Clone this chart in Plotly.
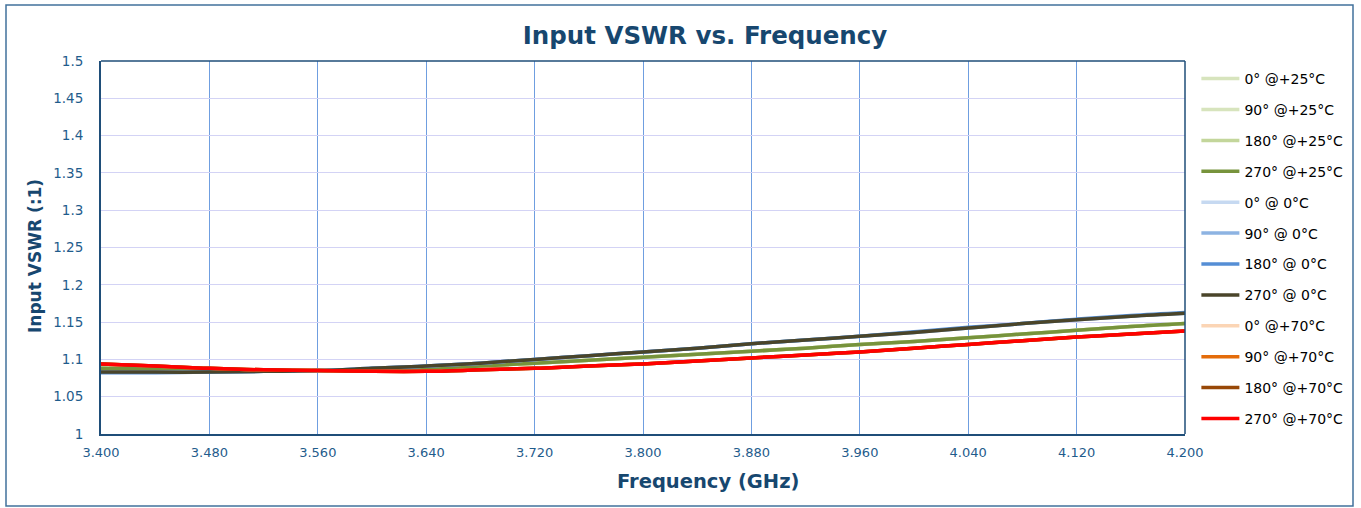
import plotly.graph_objects as go

freq = [3.40, 3.44, 3.48, 3.52, 3.56, 3.60, 3.64, 3.68, 3.72, 3.76, 3.80,
        3.84, 3.88, 3.92, 3.96, 4.00, 4.04, 4.08, 4.12, 4.16, 4.20]

# +25°C
vswr_0_25   = [1.088, 1.087, 1.086, 1.085, 1.085, 1.086, 1.088, 1.091, 1.095, 1.099, 1.103,
               1.107, 1.111, 1.115, 1.120, 1.124, 1.129, 1.134, 1.139, 1.144, 1.148]
vswr_90_25  = [1.088, 1.087, 1.086, 1.085, 1.085, 1.086, 1.088, 1.091, 1.095, 1.099, 1.103,
               1.107, 1.111, 1.115, 1.120, 1.124, 1.129, 1.134, 1.139, 1.144, 1.148]
vswr_180_25 = [1.088, 1.087, 1.086, 1.085, 1.085, 1.086, 1.088, 1.091, 1.095, 1.099, 1.103,
               1.107, 1.111, 1.115, 1.120, 1.124, 1.129, 1.134, 1.139, 1.144, 1.148]
vswr_270_25 = [1.088, 1.087, 1.086, 1.085, 1.085, 1.086, 1.088, 1.091, 1.095, 1.099, 1.103,
               1.107, 1.111, 1.115, 1.120, 1.124, 1.129, 1.134, 1.139, 1.144, 1.148]
# 0°C
vswr_0_0    = [1.083, 1.083, 1.083, 1.084, 1.085, 1.088, 1.091, 1.095, 1.100, 1.105, 1.110,
               1.115, 1.121, 1.126, 1.131, 1.136, 1.142, 1.148, 1.153, 1.158, 1.162]
vswr_90_0   = [1.083, 1.083, 1.083, 1.084, 1.085, 1.088, 1.091, 1.095, 1.100, 1.105, 1.110,
               1.115, 1.121, 1.126, 1.131, 1.136, 1.142, 1.148, 1.153, 1.158, 1.162]
vswr_180_0  = [1.082, 1.082, 1.083, 1.084, 1.085, 1.088, 1.091, 1.095, 1.100, 1.105, 1.110,
               1.115, 1.121, 1.126, 1.131, 1.137, 1.143, 1.148, 1.154, 1.159, 1.163]
vswr_270_0  = [1.083, 1.083, 1.083, 1.084, 1.085, 1.088, 1.091, 1.095, 1.100, 1.105, 1.110,
               1.115, 1.121, 1.126, 1.131, 1.136, 1.142, 1.148, 1.153, 1.158, 1.162]
# +70°C
vswr_0_70   = [1.094, 1.091, 1.088, 1.086, 1.085, 1.084, 1.084, 1.086, 1.088, 1.091, 1.094,
               1.098, 1.102, 1.106, 1.110, 1.115, 1.120, 1.125, 1.130, 1.134, 1.138]
vswr_90_70  = [1.094, 1.091, 1.088, 1.086, 1.085, 1.084, 1.084, 1.086, 1.088, 1.091, 1.094,
               1.098, 1.102, 1.106, 1.110, 1.115, 1.120, 1.125, 1.130, 1.134, 1.138]
vswr_180_70 = [1.094, 1.091, 1.088, 1.086, 1.085, 1.084, 1.084, 1.086, 1.088, 1.091, 1.094,
               1.098, 1.102, 1.106, 1.110, 1.115, 1.120, 1.125, 1.130, 1.134, 1.138]
vswr_270_70 = [1.094, 1.091, 1.088, 1.086, 1.085, 1.084, 1.084, 1.086, 1.088, 1.091, 1.094,
               1.098, 1.102, 1.106, 1.110, 1.115, 1.120, 1.125, 1.130, 1.134, 1.138]

series_names = ["0° @+25°C", "90° @+25°C", "180° @+25°C", "270° @+25°C",
                "0° @ 0°C", "90° @ 0°C", "180° @ 0°C", "270° @ 0°C",
                "0° @+70°C", "90° @+70°C", "180° @+70°C", "270° @+70°C"]
series_values = [vswr_0_25, vswr_90_25, vswr_180_25, vswr_270_25,
                 vswr_0_0, vswr_90_0, vswr_180_0, vswr_270_0,
                 vswr_0_70, vswr_90_70, vswr_180_70, vswr_270_70]
series_colors = ["#d7e4bd", "#d7e4bd", "#c3d69b", "#77933c",
                 "#c6d9f1", "#8db3e2", "#558ed5", "#4a452a",
                 "#fbd5b5", "#e46c0a", "#984807", "#ff0000"]

x_ticks = [3.40, 3.48, 3.56, 3.64, 3.72, 3.80, 3.88, 3.96, 4.04, 4.12, 4.20]
x_ticktext = ["3.400", "3.480", "3.560", "3.640", "3.720", "3.800",
              "3.880", "3.960", "4.040", "4.120", "4.200"]
y_ticks = [1.0, 1.05, 1.1, 1.15, 1.2, 1.25, 1.3, 1.35, 1.4, 1.45, 1.5]
y_ticktext = ["1", "1.05", "1.1", "1.15", "1.2", "1.25", "1.3", "1.35", "1.4", "1.45", "1.5"]

fig = go.Figure()
for i, (name, vals, col) in enumerate(zip(series_names, series_values, series_colors)):
    fig.add_trace(go.Scatter(
        x=freq, y=vals, name=name, mode="lines",
        line=dict(color=col, width=3.5, shape="spline"),
        legendgroup=f"g{i}",
    ))

title_col = "#17476f"
tick_col = "#1f5c8c"

fig.update_layout(
    width=1361, height=508,
    margin=dict(l=101, r=176, t=61, b=74),
    paper_bgcolor="white", plot_bgcolor="white",
    title=dict(text="<b>Input VSWR vs. Frequency</b>", x=705 / 1361, xanchor="center",
               y=1 - 35 / 508, yanchor="middle",
               font=dict(family="DejaVu Sans", size=24.5, color=title_col)),
    showlegend=True,
    legend=dict(x=1.0105, y=1.0 - 2 / 373, xanchor="left", yanchor="top",
                font=dict(family="DejaVu Sans", size=14, color="#000000"),
                tracegroupgap=9.7, bgcolor="rgba(0,0,0,0)", itemwidth=38,
                maxheight=500),
    xaxis=dict(range=[3.40, 4.20], tickvals=x_ticks, ticktext=x_ticktext,
               showgrid=True, gridcolor="#6f9ee0", gridwidth=1.3,
               showline=True, linecolor="#1f4e79", linewidth=2, mirror=False,
               ticks="", ticklabelstandoff=5,
               tickfont=dict(family="DejaVu Sans", size=13, color=tick_col),
               zeroline=False),
    yaxis=dict(range=[1.0, 1.5], tickvals=y_ticks, ticktext=y_ticktext,
               showgrid=True, gridcolor="#d3d3f5", gridwidth=1.3,
               showline=True, linecolor="#1f4e79", linewidth=2, mirror=False,
               ticks="", ticklabelstandoff=13,
               tickfont=dict(family="DejaVu Sans", size=13.5, color=tick_col),
               zeroline=False),
    annotations=[
        dict(text="<b>Frequency (GHz)</b>", xref="paper", yref="paper",
             x=(708 - 101) / 1084, y=(434 - 481) / 373, xanchor="center", yanchor="middle",
             showarrow=False, font=dict(family="DejaVu Sans", size=19.5, color=title_col)),
        dict(text="<b>Input VSWR (:1)</b>", xref="paper", yref="paper",
             x=(35 - 101) / 1084, y=(434 - 256) / 373, xanchor="center", yanchor="middle",
             textangle=-90, showarrow=False,
             font=dict(family="DejaVu Sans", size=17, color=title_col)),
    ],
)

# top and right plot border
fig.add_shape(type="line", xref="paper", yref="paper", x0=0, x1=1, y0=1, y1=1,
              line=dict(color="#1f4e79", width=1.5))
fig.add_shape(type="line", xref="paper", yref="paper", x0=1, x1=1, y0=0, y1=1,
              line=dict(color="#1f4e79", width=1.5))
# outer chart border
fig.add_shape(type="rect", xref="paper", yref="paper",
              x0=(6 - 101) / 1084, x1=(1353 - 101) / 1084,
              y0=(434 - 506) / 373, y1=(434 - 5) / 373,
              line=dict(color="#41719c", width=1.5), layer="below")

fig.write_html("out.html", config={"displayModeBar": False},
               post_script="document.body.style.margin='0';")
